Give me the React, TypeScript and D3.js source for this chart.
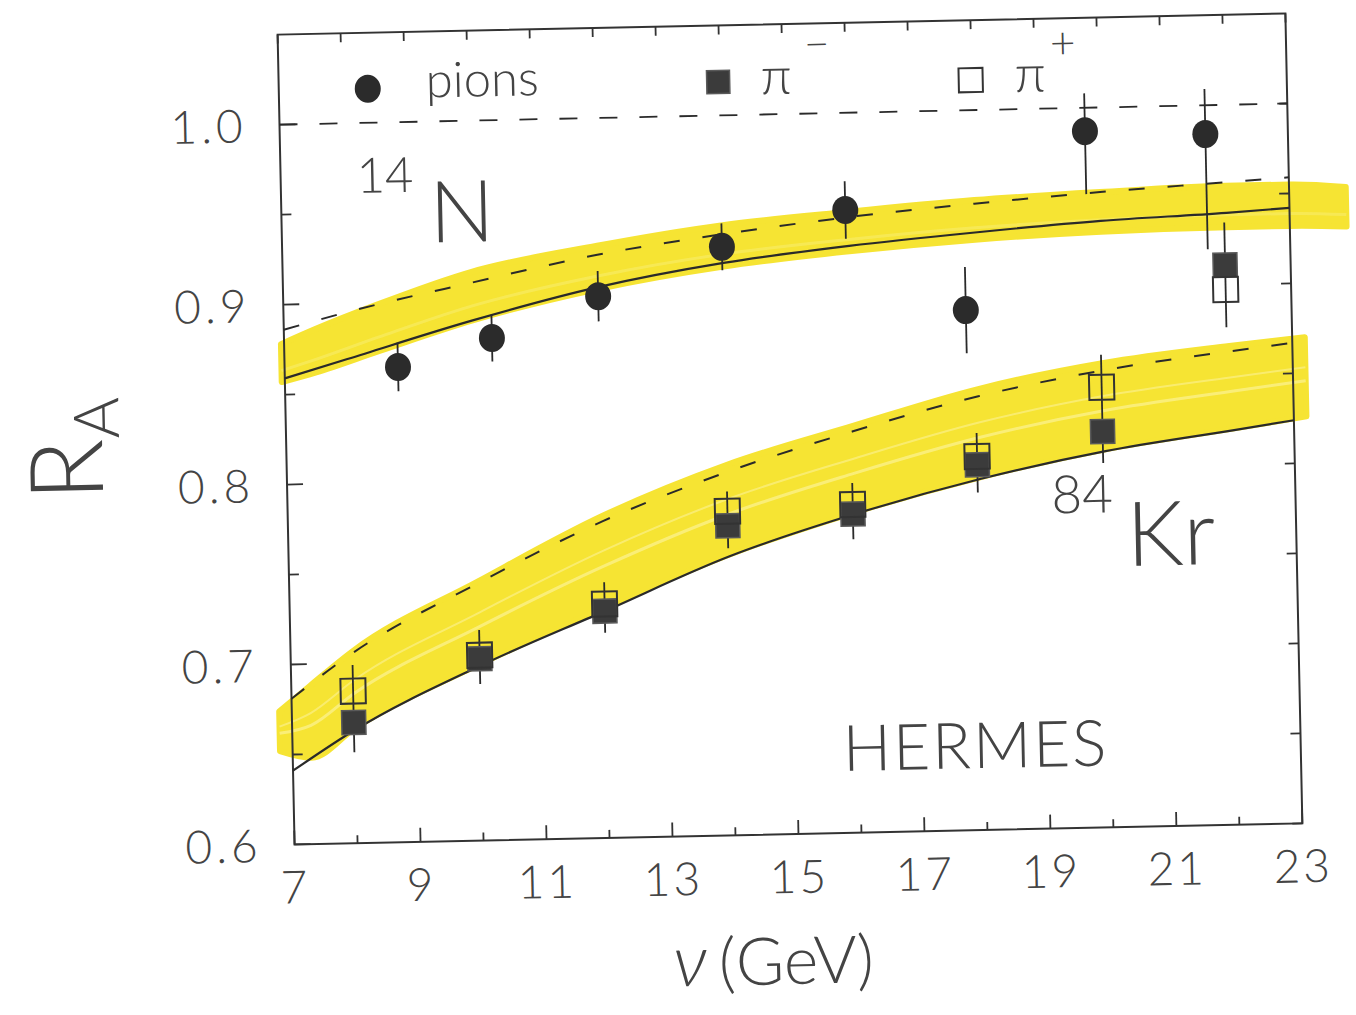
import React from "react";
import * as d3 from "d3";

// axis ticks
const nuTicks = [7, 9, 11, 13, 15, 17, 19, 21, 23];
const raTicks = [0.6, 0.7, 0.8, 0.9, 1.0];

// 14N, pions (filled circles)
const pionNu = [8.8, 10.3, 12.0, 13.98, 15.95, 17.83, 19.78, 21.69];
const pionRA = [0.864, 0.879, 0.901, 0.927, 0.946, 0.889, 0.987, 0.984];
const pionErrLo = [0.0135, 0.013, 0.014, 0.013, 0.016, 0.024, 0.035, 0.064];
const pionErrHi = [0.0135, 0.013, 0.014, 0.013, 0.016, 0.024, 0.021, 0.025];

// 84Kr, pi- (filled squares) and pi+ (open squares)
const krNu = [7.98, 10.0, 12.0, 13.98, 15.97, 17.96, 19.96, 21.96];
const piMinusRA = [0.667, 0.701, 0.726, 0.772, 0.777, 0.803, 0.82, 0.911];
const piMinusErr = [0.0165, 0.014, 0.012, 0.0125, 0.014, 0.0155, 0.0175, 0.0236];
const piPlusRA = [0.6845, 0.703, 0.73, 0.78, 0.7823, 0.8076, 0.8446, 0.8974];
const piPlusErr = [0.0145, 0.014, 0.012, 0.011, 0.012, 0.013, 0.018, 0.021];

// model curves
const curveNu = [7, 8, 10, 12, 14, 16, 18, 20, 22, 23];
const nSolid = [0.859, 0.869, 0.889, 0.906, 0.918, 0.926, 0.932, 0.937, 0.94, 0.942];
const nDashed = [0.886, 0.895, 0.91, 0.924, 0.934, 0.942, 0.948, 0.953, 0.957, 0.959];
const krSolid = [0.641, 0.663, 0.697, 0.726, 0.755, 0.777, 0.795, 0.809, 0.819, 0.824];
const krDashed = [0.681, 0.706, 0.743, 0.776, 0.802, 0.823, 0.841, 0.854, 0.863, 0.867];
const unityNu = [7, 23];
const unityRA = [1.0, 1.0];

// hand-drawn yellow bands
const nBandNu = [6.95, 7.5, 8.5, 10, 12, 14, 16, 18, 20, 22, 23, 23.9];
const nBandLo = [0.857, 0.862, 0.873, 0.889, 0.905, 0.916, 0.923, 0.928, 0.931, 0.932, 0.932, 0.931];
const nBandHi = [0.878, 0.886, 0.899, 0.916, 0.929, 0.939, 0.945, 0.95, 0.953, 0.955, 0.955, 0.953];
const krBandNu = [6.8, 7.3, 8, 10, 12, 14, 16, 18, 20, 22, 23.2];
const krBandLo = [0.652, 0.648, 0.664, 0.698, 0.728, 0.756, 0.778, 0.796, 0.81, 0.82, 0.826];
const krBandHi = [0.674, 0.688, 0.707, 0.744, 0.779, 0.806, 0.826, 0.845, 0.858, 0.866, 0.87];

const ink = "#333";
const font = "Lato, 'Liberation Sans', sans-serif";

export default function App() {
  const x = d3.scaleLinear().domain([7, 23]).range([286, 1294]);
  const y = d3.scaleLinear().domain([0.6, 1.05]).range([834, 24]);
  const [x0, x1] = x.range();
  const [y0, y1] = y.range();

  const path = (xs: number[], ys: number[]) =>
    d3.line<number>().x((_, i) => x(xs[i])).y((d) => y(d)).curve(d3.curveMonotoneX)(ys) || "";

  const band = (xs: number[], lo: number[], hi: number[]) =>
    d3
      .area<number>()
      .x((_, i) => x(xs[i]))
      .y0((_, i) => y(lo[i]))
      .y1((_, i) => y(hi[i]))
      .curve(d3.curveMonotoneX)(xs.map((_, i) => i)) || "";

  const streak = (xs: number[], lo: number[], hi: number[], f: number) =>
    path(xs, lo.map((v, i) => v + f * (hi[i] - v)));

  const minorX = x.ticks(16);
  const minorY = y.ticks(9).filter((v) => v < 1.04);

  return (
    <svg width={1356} height={1015} style={{ position: "absolute", left: 0, top: 0, background: "#fff" }}>
      <g transform="rotate(-1.2 790 430)" fontFamily={font} fill={ink}>
        {/* yellow highlighter bands */}
        <g opacity={0.92}>
          <path d={band(nBandNu, nBandLo, nBandHi)} fill="#f6e222" stroke="#f6e222" strokeWidth={6} strokeLinejoin="round" />
          <path d={band(krBandNu, krBandLo, krBandHi)} fill="#f6e222" stroke="#f6e222" strokeWidth={6} strokeLinejoin="round" />
        </g>
        <path d={streak(krBandNu, krBandLo, krBandHi, 0.45)} fill="none" stroke="#fbf088" strokeWidth={3} opacity={0.8} />
        <path d={streak(krBandNu, krBandLo, krBandHi, 0.62)} fill="none" stroke="#fbf088" strokeWidth={2} opacity={0.7} />
        <path d={streak(nBandNu, nBandLo, nBandHi, 0.3)} fill="none" stroke="#f9ec6a" strokeWidth={3} opacity={0.6} />

        {/* frame */}
        <rect x={x0} y={y1} width={x1 - x0} height={y0 - y1} fill="none" stroke={ink} strokeWidth={2} />

        {/* x ticks, bottom and top */}
        {minorX.map((v) => {
          const major = nuTicks.includes(v);
          return (
            <g key={"xt" + v} stroke={ink} strokeWidth={1.8}>
              <line x1={x(v)} x2={x(v)} y1={y0} y2={y0 - (major ? 14 : 8)} />
              <line x1={x(v)} x2={x(v)} y1={y1} y2={y1 + 9} />
            </g>
          );
        })}
        {/* y ticks, left and right */}
        {minorY.map((v) => {
          const major = raTicks.some((t) => Math.abs(t - v) < 1e-6);
          return (
            <g key={"yt" + v} stroke={ink} strokeWidth={1.8}>
              <line x1={x0} x2={x0 + (major ? 16 : 10)} y1={y(v)} y2={y(v)} />
              <line x1={x1} x2={x1 - 10} y1={y(v)} y2={y(v)} />
            </g>
          );
        })}

        {/* tick labels */}
        {nuTicks.map((v) => (
          <text key={"xl" + v} x={x(v)} y={y0 + 59} textAnchor="middle" fontSize={46} fontWeight={300} letterSpacing={3} fill="#444">
            {v}
          </text>
        ))}
        {raTicks.map((v) => (
          <text key={"yl" + v} x={x0 - 33} y={y(v) + 17} textAnchor="end" fontSize={46} fontWeight={300} letterSpacing={4} fill="#444">
            {v.toFixed(1)}
          </text>
        ))}

        {/* model curves */}
        <g fill="none" stroke="#2a2a2a">
          <path d={path(unityNu, unityRA)} strokeWidth={1.8} strokeDasharray="18,22" />
          <path d={path(curveNu, nSolid)} strokeWidth={2.2} />
          <path d={path(curveNu, nDashed)} strokeWidth={2} strokeDasharray="16,23" />
          <path d={path(curveNu, krSolid)} strokeWidth={2.2} />
          <path d={path(curveNu, krDashed)} strokeWidth={2} strokeDasharray="16,23" />
        </g>

        {/* error bars */}
        <g stroke="#2a2a2a" strokeWidth={1.8}>
          {pionNu.map((v, i) => (
            <line key={"pe" + i} x1={x(v)} x2={x(v)} y1={y(pionRA[i] - pionErrLo[i])} y2={y(pionRA[i] + pionErrHi[i])} />
          ))}
          {krNu.map((v, i) => (
            <line key={"ke" + i} x1={x(v)} x2={x(v)}
              y1={y(Math.min(piMinusRA[i] - piMinusErr[i], piPlusRA[i] - piPlusErr[i]))}
              y2={y(Math.max(piMinusRA[i] + piMinusErr[i], piPlusRA[i] + piPlusErr[i]))} />
          ))}
        </g>

        {/* data points */}
        {krNu.map((v, i) => (
          <rect key={"pm" + i} x={x(v) - 12} y={y(piMinusRA[i]) - 12} width={24} height={24} fill="#3b3b3b" stroke="#5a5a5a" strokeWidth={1.5} />
        ))}
        {krNu.map((v, i) => (
          <rect key={"pp" + i} x={x(v) - 12.5} y={y(piPlusRA[i]) - 12.5} width={25} height={25} fill="none" stroke="#333" strokeWidth={2} />
        ))}
        {pionNu.map((v, i) => (
          <ellipse key={"pi" + i} cx={x(v)} cy={y(pionRA[i])} rx={13} ry={14} fill="#2b2b2b" />
        ))}

        {/* legend */}
        <ellipse cx={375} cy={80} rx={13} ry={14} fill="#2b2b2b" />
        <text x={433} y={90} fontSize={49} fontWeight={300} fill="#444">pions</text>
        <rect x={714} y={69} width={23} height={23} fill="#3b3b3b" stroke="#5a5a5a" strokeWidth={1.5} />
        <text x={768} y={94} fontSize={52} fontWeight={300} fill="#444">π</text>
        <text x={812} y={60} fontSize={44} fontWeight={300} fill="#444">−</text>
        <rect x={966} y={72} width={24} height={24} fill="none" stroke="#333" strokeWidth={2} />
        <text x={1022} y={97} fontSize={52} fontWeight={300} fill="#444">π</text>
        <text x={1058} y={64} fontSize={44} fontWeight={300} fill="#444">+</text>

        {/* nucleus labels */}
        <text x={362} y={184} fontSize={49} fontWeight={300} fill="#444">14</text>
        <text x={434} y={235} fontSize={86} fontWeight={300} fill="#444">N</text>
        <text x={1050} y={519} fontSize={53} fontWeight={300} fill="#444">84</text>
        <text x={1124} y={573} fontSize={90} fontWeight={300} fill="#444">Kr</text>
        <text x={836} y={772} fontSize={64} fontWeight={300} letterSpacing={2} fill="#444">HERMES</text>

        {/* axis titles */}
        <text transform="translate(102,486) rotate(-90)" fontSize={102} fontWeight={300} fill="#444">
          R<tspan fontSize={63} dy={17}>A</tspan>
        </text>
        <text x={662} y={984} fontSize={66} fontWeight={300} fill="#444">
          <tspan fontStyle="italic" fontSize={72}>ν</tspan>
          <tspan dx={12}>(GeV)</tspan>
        </text>
      </g>
    </svg>
  );
}
